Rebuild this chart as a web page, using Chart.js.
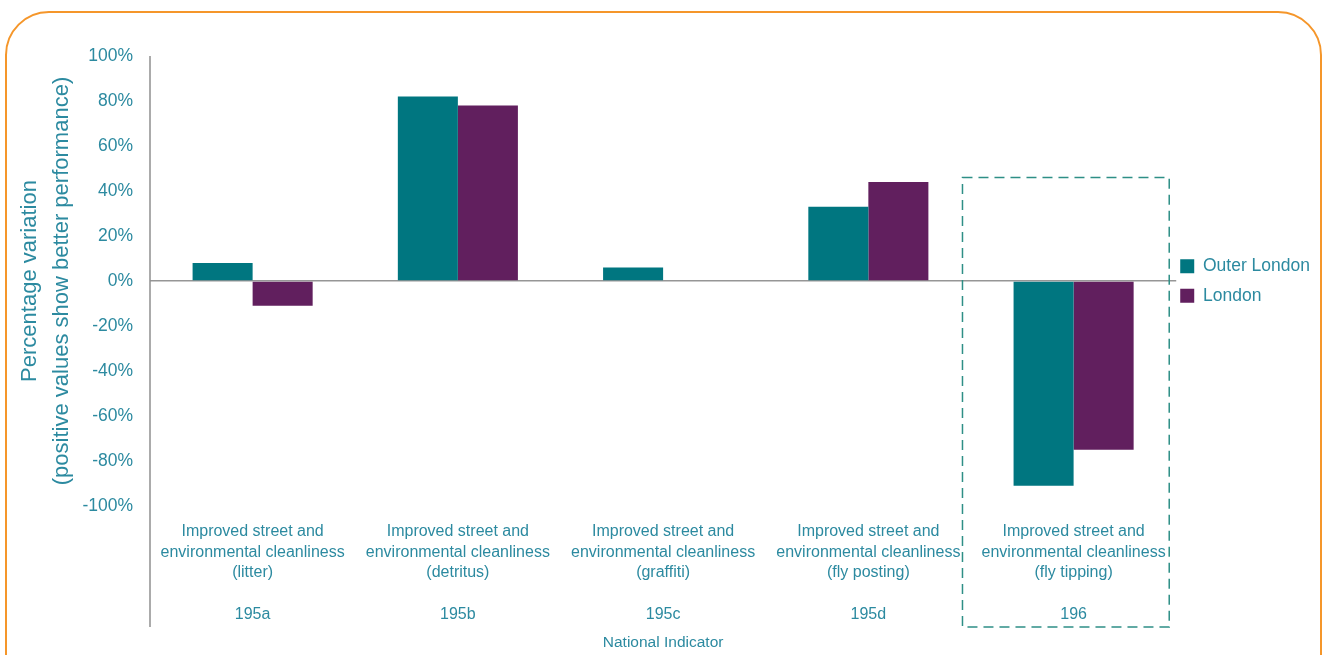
<!DOCTYPE html>
<html><head><meta charset="utf-8">
<script src="https://cdn.jsdelivr.net/npm/chart.js@4/dist/chart.umd.min.js"></script>
<style>
html,body{margin:0;padding:0;background:#fff;width:1328px;height:655px;overflow:hidden;}
#frame{position:absolute;left:5px;top:11px;width:1317px;height:720px;border:2.5px solid #f5962a;border-radius:44px;box-sizing:border-box;}
#wrap{position:absolute;left:0;top:0;width:1328px;height:655px;}
</style></head>
<body>
<div id="frame"></div>
<div id="wrap"><canvas id="c" width="1328" height="655"></canvas></div>
<script>
// ---- data ----
const indicators = ['195a', '195b', '195c', '195d', '196'];
const indicatorNames = ['(litter)', '(detritus)', '(graffiti)', '(fly posting)', '(fly tipping)'];
const outerLondon = [8, 82, 6, 33, -91];
const london = [-11, 78, null, 44, -75];
const seriesNames = ['Outer London', 'London'];
const yTickValues = [-100, -80, -60, -40, -20, 0, 20, 40, 60, 80, 100];
const highlightIndex = 4;

const TEAL_TEXT = '#2c8aa0';
const FONT = '"Liberation Sans", Arial, sans-serif';
const labels = indicators.map((code, i) => ['Improved street and', 'environmental cleanliness', indicatorNames[i], '', code]);

const extras = {
  id: 'extras',
  afterLayout(chart) {
    // nudge the legend slightly closer to the plot
    if (chart.legend) { chart.legend.left -= 8; chart.legend.right -= 8; }
  },
  afterDraw(chart) {
    const {ctx, scales: {x, y}, chartArea} = chart;
    const axisBottom = x.bottom - 28;
    ctx.save();
    // extended y axis line
    ctx.strokeStyle = '#8f8f8f';
    ctx.lineWidth = 1.5;
    ctx.beginPath();
    ctx.moveTo(chartArea.left, chartArea.top);
    ctx.lineTo(chartArea.left, axisBottom);
    ctx.stroke();
    // dashed highlight box
    const cw = (x.right - x.left) / indicators.length;
    const cx = x.getPixelForValue(highlightIndex);
    const left = cx - cw / 2 - 8.5;
    const right = cx + cw / 2 - 7;
    const top = y.getPixelForValue(46);
    ctx.strokeStyle = '#2e8f86';
    ctx.lineWidth = 1.5;
    ctx.setLineDash([10, 6]);
    ctx.strokeRect(left, top, right - left, axisBottom - top);
    ctx.restore();
  }
};

new Chart(document.getElementById('c'), {
  type: 'bar',
  data: {
    labels: labels,
    datasets: [
      {label: seriesNames[0], data: outerLondon, backgroundColor: '#007680', borderWidth: 0},
      {label: seriesNames[1], data: london, backgroundColor: '#611f5e', borderWidth: 0}
    ]
  },
  plugins: [extras],
  options: {
    responsive: false,
    animation: false,
    devicePixelRatio: 1,
    layout: {padding: {top: 56, right: 0, bottom: 0, left: 0}},
    datasets: {bar: {categoryPercentage: 0.585, barPercentage: 1.0}},
    plugins: {
      legend: {
        position: 'right',
        align: 'center',
        fullSize: false,
        labels: {
          boxWidth: 14, boxHeight: 14, padding: 12,
          color: TEAL_TEXT,
          font: {family: FONT, size: 17.5}
        }
      },
      tooltip: {enabled: false}
    },
    scales: {
      x: {
        afterFit(scale) { scale.height = 149; },
        grid: {display: false},
        border: {display: false},
        ticks: {
          color: TEAL_TEXT, padding: 7, maxRotation: 0, autoSkip: false,
          font: {family: FONT, size: 16, lineHeight: 1.3}
        },
        title: {
          display: true, text: 'National Indicator', color: TEAL_TEXT,
          padding: {top: 0, bottom: 3},
          font: {family: FONT, size: 15.5}
        }
      },
      y: {
        min: -100, max: 100,
        afterFit(scale) { scale.width = 150; },
        afterBuildTicks(scale) { scale.ticks = yTickValues.map(v => ({value: v})); },
        grid: {
          drawTicks: false,
          lineWidth: 1.5,
          color: (c) => (c.tick && c.tick.value === 0) ? '#969696' : 'rgba(0,0,0,0)'
        },
        border: {display: false},
        ticks: {
          color: TEAL_TEXT, padding: 17,
          font: {family: FONT, size: 17.5},
          callback: (v) => v + '%'
        },
        title: {
          display: true,
          text: ['Percentage variation', '(positive values show better performance)'],
          color: TEAL_TEXT,
          padding: {top: 14, bottom: 0},
          font: {family: FONT, size: 22, lineHeight: 1.45}
        }
      }
    }
  }
});
</script>
</body></html>
